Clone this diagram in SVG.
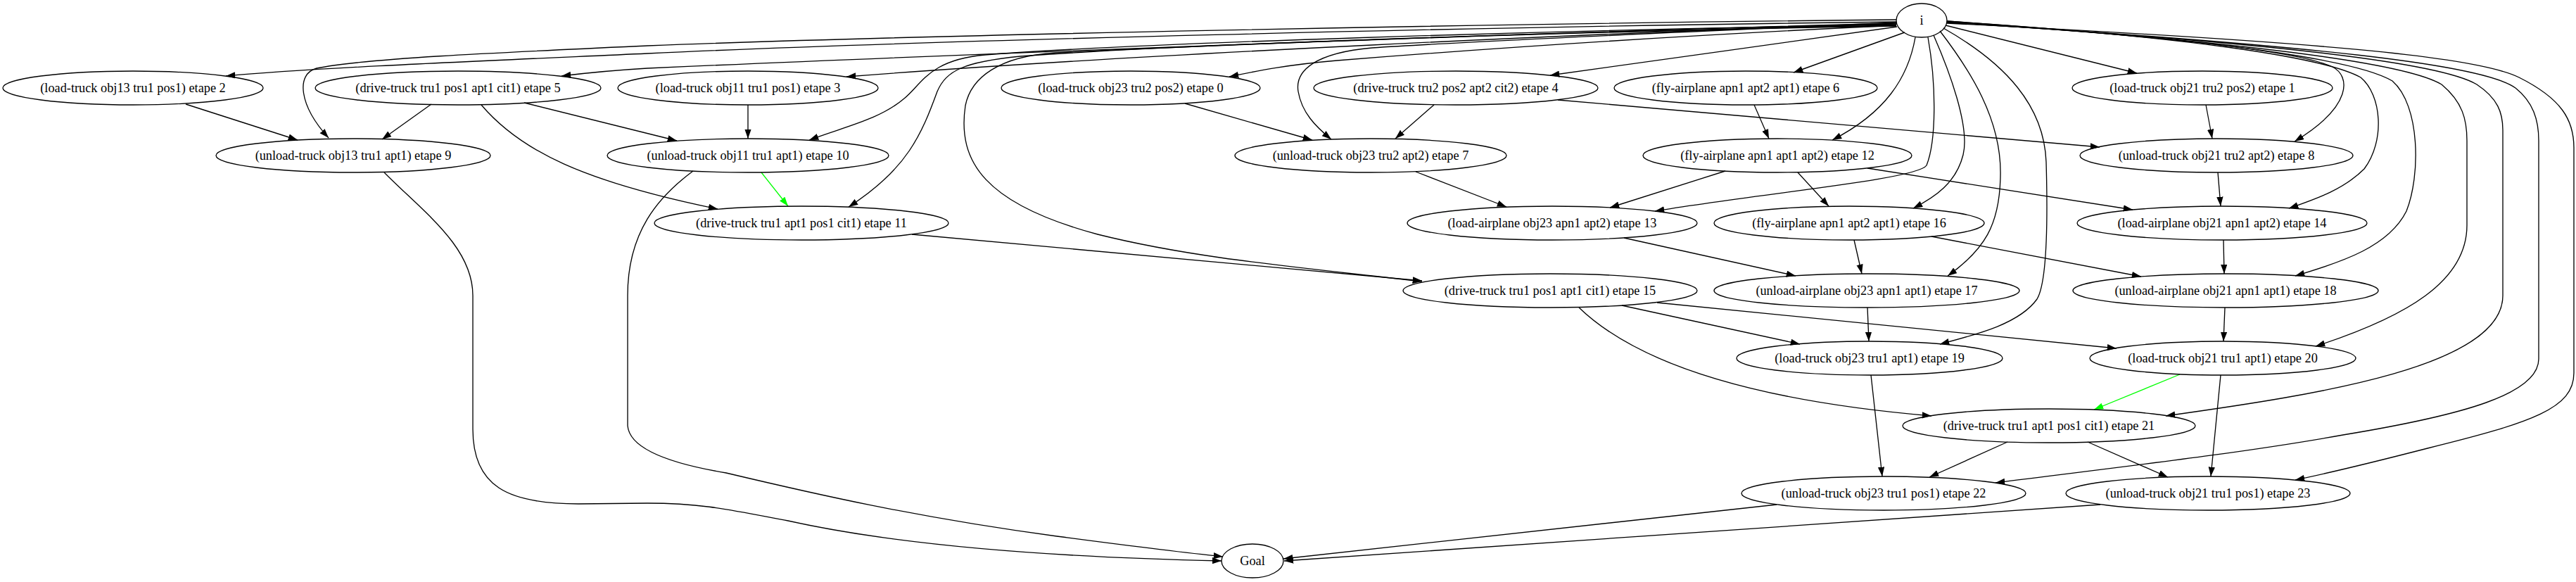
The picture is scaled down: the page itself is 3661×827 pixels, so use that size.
<svg xmlns="http://www.w3.org/2000/svg" width="3661" height="827" viewBox="0 0 3661 827">
<style>
.n ellipse{fill:none;stroke:#000;stroke-width:1.33}
.n text{font-family:"Liberation Serif","Times New Roman",serif;font-size:18.3px;text-anchor:middle;fill:#000}
#edges path{fill:none;stroke:#000;stroke-width:1.33;marker-end:url(#ah)}
#edges path.g{stroke:#00ff00;marker-end:url(#ahg)}
</style>
<defs>
<marker id="ah" markerUnits="userSpaceOnUse" markerWidth="14" markerHeight="10" refX="13.3" refY="4.67" orient="auto"><path d="M0,0 L13.3,4.67 L0,9.33 z" fill="#000"/></marker>
<marker id="ahg" markerUnits="userSpaceOnUse" markerWidth="14" markerHeight="10" refX="13.3" refY="4.67" orient="auto"><path d="M0,0 L13.3,4.67 L0,9.33 z" fill="#00ff00"/></marker>
</defs>
<rect width="3661" height="827" fill="#fff"/>
<g id="edges">
<path d="M2695,28 C2100,34 1300,50 920,65 C700,75 520,83 450,97 C420,105 425,150 467,196"/>
<path d="M2695,31 C2100,38 1300,58 920,76 C700,86 450,96 321,108"/>
<path d="M2695,33 C2200,45 1300,80 920,97 C870,100 830,104 798,108"/>
<path d="M2695,34 C2300,45 1600,78 1203,109"/>
<path d="M2695,35 C2200,43 1600,62 1400,78 C1320,85 1310,120 1285,140 C1250,170 1200,180 1150,199"/>
<path d="M2695,36 C2200,45 1650,65 1450,80 C1370,88 1345,100 1332,130 C1310,190 1290,240 1206,294"/>
<path d="M2695,37 C2200,45 1700,65 1500,75 C1420,80 1380,110 1372,150 C1360,230 1400,290 1560,333 C1700,368 1850,380 2021,400"/>
<path d="M2695,36 C2400,50 2100,70 1900,86 C1830,92 1790,100 1747,109"/>
<path d="M2695,32 C2400,45 2100,58 1950,68 C1870,75 1840,100 1845,130 C1850,160 1870,180 1892,198"/>
<path d="M2696,38 C2550,60 2350,85 2203,107"/>
<path d="M2707,46 L2549,103"/>
<path d="M2722,53 C2712,110 2680,160 2604,199"/>
<path d="M2740,53 C2752,120 2752,200 2738,235 C2725,255 2500,275 2352,300"/>
<path d="M2748,50 C2770,100 2800,180 2790,220 C2780,260 2750,280 2719,296"/>
<path d="M2757,44 C2800,100 2845,170 2843,250 C2842,320 2820,355 2768,392"/>
<path d="M2762,40 C2850,90 2905,150 2908,230 C2910,300 2910,400 2895,425 C2870,460 2810,475 2757,489"/>
<path d="M2765,36 L3037,104"/>
<path d="M2767,30 C3050,50 3260,70 3315,95 C3340,108 3345,150 3261,201"/>
<path d="M2767,30 C3100,52 3300,80 3355,110 C3385,135 3390,200 3360,240 C3330,270 3290,283 3253,296"/>
<path d="M2767,31 C3150,55 3350,85 3400,115 C3440,150 3440,250 3420,300 C3395,350 3330,372 3262,392"/>
<path d="M2767,31 C3200,60 3420,90 3470,120 C3500,145 3506,170 3506,200 L3506,320 C3506,400 3420,450 3291,492"/>
<path d="M2767,32 C3250,62 3470,90 3520,120 C3550,140 3557,160 3557,185 L3557,420 C3557,520 3300,560 3078,591"/>
<path d="M2767,32 C3300,65 3530,92 3575,125 C3600,145 3608,170 3608,200 L3608,510 C3608,560 3500,590 3330,618 C3180,645 3000,665 2836,686"/>
<path d="M2767,33 C3300,60 3520,80 3580,110 C3640,140 3658,170 3658,210 L3658,530 C3658,580 3600,600 3450,637 C3380,655 3320,670 3262,682"/>
<path d="M264,148 L423,199"/>
<path d="M613,148 L543,198"/>
<path d="M745,146 L962,200"/>
<path d="M684,149 C740,215 830,258 1020,297"/>
<path d="M1063,149 L1063,197"/>
<path class="g" d="M1082,245 L1120,293"/>
<path d="M985,243 C935,280 892,330 892,420 L892,605 C895,640 960,660 1032,672 C1150,700 1300,735 1502,762 C1600,775 1680,785 1738,791"/>
<path d="M546,245 C600,300 672,350 672,420 L672,610 C672,690 720,716 822,716 L920,715 C1000,715 1040,725 1120,740 C1300,780 1550,793 1736,797"/>
<path d="M1296,333 L2021,399"/>
<path d="M1684,147 L1865,199"/>
<path d="M2038,149 L1983,197"/>
<path d="M2214,142 L2984,209"/>
<path d="M2493,149 L2514,197"/>
<path d="M2012,244 L2141,294"/>
<path d="M2452,243 L2288,295"/>
<path d="M2555,245 L2599,293"/>
<path d="M2654,239 L3031,298"/>
<path d="M2308,338 L2552,392"/>
<path d="M2635,341 L2646,389"/>
<path d="M2745,336 L3043,393"/>
<path d="M3135,149 L3144,197"/>
<path d="M3152,245 L3156,293"/>
<path d="M3160,341 L3161,389"/>
<path d="M3162,437 L3160,485"/>
<path d="M2654,437 L2656,485"/>
<path d="M2305,434 L2558,489"/>
<path d="M2355,430 L3008,495"/>
<path d="M2244,437 C2330,520 2500,570 2745,591"/>
<path class="g" d="M3098,532 L2976,582"/>
<path d="M3156,533 L3142,677"/>
<path d="M2659,533 L2675,677"/>
<path d="M2853,628 L2742,678"/>
<path d="M2967,628 L3081,678"/>
<path d="M2525,717 L1824,794"/>
<path d="M2985,717 L1825,797"/>
</g>
<g id="i" class="n"><ellipse cx="2731" cy="29" rx="36" ry="24"/><text x="2731" y="35">i</text></g>
<g id="n0" class="n"><ellipse cx="1607" cy="125" rx="184" ry="24"/><text x="1607" y="131">(load-truck obj23 tru2 pos2) etape 0</text></g>
<g id="n1" class="n"><ellipse cx="3130" cy="125" rx="185" ry="24"/><text x="3130" y="131">(load-truck obj21 tru2 pos2) etape 1</text></g>
<g id="n2" class="n"><ellipse cx="189" cy="125" rx="185" ry="24"/><text x="189" y="131">(load-truck obj13 tru1 pos1) etape 2</text></g>
<g id="n3" class="n"><ellipse cx="1063" cy="125" rx="185" ry="24"/><text x="1063" y="131">(load-truck obj11 tru1 pos1) etape 3</text></g>
<g id="n4" class="n"><ellipse cx="2069" cy="125" rx="202" ry="24"/><text x="2069" y="131">(drive-truck tru2 pos2 apt2 cit2) etape 4</text></g>
<g id="n5" class="n"><ellipse cx="651" cy="125" rx="203" ry="24"/><text x="651" y="131">(drive-truck tru1 pos1 apt1 cit1) etape 5</text></g>
<g id="n6" class="n"><ellipse cx="2481" cy="125" rx="187" ry="24"/><text x="2481" y="131">(fly-airplane apn1 apt2 apt1) etape 6</text></g>
<g id="n7" class="n"><ellipse cx="1948" cy="221" rx="193" ry="24"/><text x="1948" y="227">(unload-truck obj23 tru2 apt2) etape 7</text></g>
<g id="n8" class="n"><ellipse cx="3150" cy="221" rx="194" ry="24"/><text x="3150" y="227">(unload-truck obj21 tru2 apt2) etape 8</text></g>
<g id="n9" class="n"><ellipse cx="502" cy="221" rx="195" ry="24"/><text x="502" y="227">(unload-truck obj13 tru1 apt1) etape 9</text></g>
<g id="n10" class="n"><ellipse cx="1063" cy="221" rx="200" ry="24"/><text x="1063" y="227">(unload-truck obj11 tru1 apt1) etape 10</text></g>
<g id="n11" class="n"><ellipse cx="1139" cy="317" rx="209" ry="24"/><text x="1139" y="323">(drive-truck tru1 apt1 pos1 cit1) etape 11</text></g>
<g id="n12" class="n"><ellipse cx="2526" cy="221" rx="191" ry="24"/><text x="2526" y="227">(fly-airplane apn1 apt1 apt2) etape 12</text></g>
<g id="n13" class="n"><ellipse cx="2206" cy="317" rx="206" ry="24"/><text x="2206" y="323">(load-airplane obj23 apn1 apt2) etape 13</text></g>
<g id="n14" class="n"><ellipse cx="3158" cy="317" rx="206" ry="24"/><text x="3158" y="323">(load-airplane obj21 apn1 apt2) etape 14</text></g>
<g id="n15" class="n"><ellipse cx="2203" cy="413" rx="209" ry="24"/><text x="2203" y="419">(drive-truck tru1 pos1 apt1 cit1) etape 15</text></g>
<g id="n16" class="n"><ellipse cx="2628" cy="317" rx="192" ry="24"/><text x="2628" y="323">(fly-airplane apn1 apt2 apt1) etape 16</text></g>
<g id="n17" class="n"><ellipse cx="2653" cy="413" rx="217" ry="24"/><text x="2653" y="419">(unload-airplane obj23 apn1 apt1) etape 17</text></g>
<g id="n18" class="n"><ellipse cx="3163" cy="413" rx="217" ry="24"/><text x="3163" y="419">(unload-airplane obj21 apn1 apt1) etape 18</text></g>
<g id="n19" class="n"><ellipse cx="2657" cy="509" rx="189" ry="24"/><text x="2657" y="515">(load-truck obj23 tru1 apt1) etape 19</text></g>
<g id="n20" class="n"><ellipse cx="3159" cy="509" rx="189" ry="24"/><text x="3159" y="515">(load-truck obj21 tru1 apt1) etape 20</text></g>
<g id="n21" class="n"><ellipse cx="2912" cy="605" rx="208" ry="24"/><text x="2912" y="611">(drive-truck tru1 apt1 pos1 cit1) etape 21</text></g>
<g id="n22" class="n"><ellipse cx="2677" cy="701" rx="202" ry="24"/><text x="2677" y="707">(unload-truck obj23 tru1 pos1) etape 22</text></g>
<g id="n23" class="n"><ellipse cx="3138" cy="701" rx="202" ry="24"/><text x="3138" y="707">(unload-truck obj21 tru1 pos1) etape 23</text></g>
<g id="goal" class="n"><ellipse cx="1780" cy="797" rx="44" ry="24"/><text x="1780" y="803">Goal</text></g>
</svg>
